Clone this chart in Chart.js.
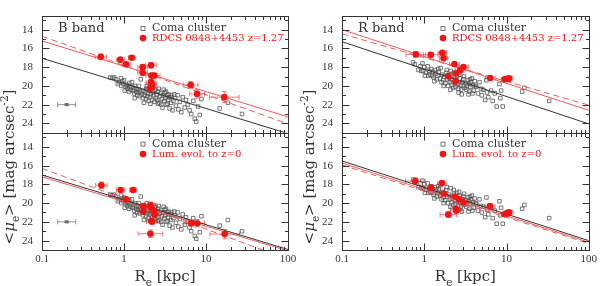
<!DOCTYPE html>
<html>
<head>
<meta charset="utf-8">
<script src="https://cdn.jsdelivr.net/npm/chart.js@4.4.1/dist/chart.umd.min.js"></script>
<style>
html, body { margin: 0; padding: 0; background: #fff; }
#wrap { position: relative; width: 600px; height: 286px; }
canvas { position: absolute; top: 0; }
</style>
</head>
<body>
<div id="wrap">
  <canvas id="leftCol" width="300" height="286" style="left:0"></canvas>
  <canvas id="rightCol" width="300" height="286" style="left:300px"></canvas>
</div>
<script>
// axis ticks
const xMajor = [0.1, 1, 10, 100];
const yMajor = [14, 16, 18, 20, 22, 24];

// Coma cluster, B band (R_e kpc, <mu_e>)
const comaB_R = [0.68, 0.72, 0.76, 0.80, 0.84, 0.87, 0.92, 0.95, 0.98, 1.0,
  1.05, 1.08, 1.1, 1.13, 1.16, 1.2, 1.22, 1.25, 1.28, 1.3, 1.33, 1.36, 1.4, 1.42, 1.45, 1.48, 1.5, 1.55, 1.58, 1.6,
  1.65, 1.7, 1.72, 1.78, 1.8, 1.85, 1.88, 1.92, 1.95, 2.0, 2.05, 2.08, 2.12, 2.2, 2.25, 2.3, 2.35, 2.4, 2.45, 2.5,
  2.55, 2.6, 2.7, 2.75, 2.8, 2.9, 2.95, 3.0, 3.1, 3.15, 3.2, 3.3, 3.35, 3.45, 3.5, 3.6, 3.7, 3.8, 3.9, 4.0,
  4.2, 4.3, 4.5, 4.6, 4.8, 5.0, 5.2, 5.5, 5.7, 6.0, 6.3, 6.6, 7.0, 7.3, 7.6, 8.0, 8.4, 8.8,
  1.35, 1.52, 1.75, 1.9, 2.1, 2.28, 2.6, 2.65, 2.85, 3.05, 3.25, 3.4, 3.55, 3.75, 4.1, 1.15, 1.02, 0.93,
  14.7, 18.5, 27.5];
const comaB_mu = [19.1, 19.15, 19.1, 19.3, 19.8, 19.6, 19.2, 19.5, 19.8, 19.4,
  20.1, 19.9, 20.3, 20.0, 19.7, 20.4, 20.1, 19.6, 20.5, 20.2, 20.8, 20.0, 20.6, 20.3, 21.0, 20.7, 20.4, 21.1, 20.6, 19.3,
  20.9, 21.3, 20.5, 21.0, 20.7, 21.4, 20.3, 21.1, 20.8, 21.6, 20.5, 21.2, 20.9, 21.5, 20.7, 21.0, 21.7, 20.4, 21.3, 20.9,
  21.5, 20.6, 21.8, 21.1, 20.8, 21.4, 22.3, 21.0, 21.6, 20.7, 21.3, 22.0, 21.0, 21.5, 20.9, 22.4, 21.2, 21.0, 22.6, 21.6,
  21.3, 22.1, 21.0, 22.5, 21.7, 22.8, 21.2, 22.3, 21.5, 22.0, 22.6, 23.0, 21.6, 23.5, 23.8, 22.2, 23.1, 21.4,
  21.3, 20.0, 21.8, 20.0, 21.9, 20.2, 21.9, 20.3, 22.0, 20.4, 20.6, 21.9, 21.2, 21.8, 20.9, 20.6, 20.5, 20.0,
  22.4, 21.8, 23.0];

// Coma cluster, R band
const comaR_R = [0.73, 0.77, 0.85, 0.9, 0.95, 0.97, 1.0, 1.05, 1.1,
  1.15, 1.18, 1.22, 1.25, 1.28, 1.3, 1.35, 1.38, 1.42, 1.45, 1.5, 1.55, 1.58, 1.62, 1.65, 1.7,
  1.75, 1.8, 1.85, 1.9, 1.95, 2.0, 2.05, 2.1, 2.15, 2.2, 2.25, 2.3, 2.35, 2.4, 2.45, 2.5, 2.55, 2.6,
  2.7, 2.75, 2.8, 2.9, 2.95, 3.0, 3.1, 3.2, 3.3, 3.4, 3.5, 3.55, 3.6, 3.7, 3.8, 3.9, 4.0, 4.1,
  4.3, 4.5, 4.7, 4.9, 5.0, 5.2, 5.5, 5.7, 5.8, 6.0, 6.5, 6.8, 7.2, 7.6, 8.2, 8.4, 8.6, 9.0,
  1.33, 1.48, 1.72, 1.88, 2.08, 2.28, 2.62, 2.65, 2.85, 3.05, 3.25, 3.45, 3.65, 3.85, 4.2, 1.12, 1.02, 0.92,
  15.5, 16.5, 33];
const comaR_mu = [17.5, 17.7, 18.3, 17.9, 17.6, 18.4, 18.0, 18.6, 17.9,
  18.4, 18.8, 18.2, 18.9, 18.5, 19.1, 18.3, 18.7, 19.3, 18.9, 18.5, 19.2, 18.1, 19.6, 18.8, 19.4,
  19.0, 19.7, 18.6, 19.3, 20.0, 19.1, 19.6, 18.4, 19.9, 19.3, 20.2, 19.0, 19.7, 20.1, 19.4, 18.9, 19.8, 20.3,
  19.2, 19.9, 20.4, 19.6, 20.0, 19.3, 20.2, 19.7, 20.0, 19.4, 19.8, 20.6, 19.3, 19.6, 19.2, 19.9, 20.5, 19.5,
  20.1, 20.8, 19.6, 20.3, 21.0, 20.4, 21.5, 19.4, 20.7, 21.2, 20.5, 21.6, 20.8, 22.2, 19.8, 21.3, 20.5, 22.2,
  19.5, 18.2, 20.0, 18.3, 20.4, 18.6, 20.7, 18.8, 20.9, 19.0, 20.4, 20.9, 20.1, 20.8, 20.0, 18.9, 18.9, 18.4,
  20.6, 20.2, 21.6];

// RDCS 0848+4453, B band (observed)
const rdcsB_R  = [0.52, 0.90, 1.06, 1.24, 1.69, 1.69, 2.14, 2.17, 2.34, 2.14, 2.20, 2.07, 6.5, 7.8, 16.7];
const rdcsB_mu = [16.9, 17.2, 17.7, 17.0, 18.0, 18.6, 17.8, 18.9, 18.9, 19.6, 19.9, 20.3, 19.9, 20.85, 21.2];
const rdcsB_ex = [0.07, 0.05, 0.05, 0.04, 0.06, 0.06, 0.07, 0.07, 0.07, 0.06, 0.06, 0.06, 0.09, 0.09, 0.18];
const rdcsB_ey = [0.3, 0.2, 0.2, 0.15, 0.25, 0.3, 0.3, 0.25, 0.25, 0.3, 0.3, 0.35, 0.35, 0.45, 0.6];

// B band, luminosity evolved to z=0
const evB_R  = [0.53, 0.91, 1.29, 1.06, 1.72, 1.72, 2.1, 2.16, 2.3, 2.36, 2.16, 2.2, 2.1, 6.6, 7.8, 16.9];
const evB_mu = [18.1, 18.6, 18.6, 19.6, 20.3, 20.9, 20.2, 20.5, 20.9, 21.2, 21.9, 21.95, 23.27, 22.15, 22.15, 23.3];
const evB_ex = [0.07, 0.05, 0.04, 0.05, 0.06, 0.06, 0.07, 0.07, 0.07, 0.07, 0.06, 0.07, 0.15, 0.09, 0.09, 0.18];
const evB_ey = [0.35, 0.2, 0.15, 0.2, 0.25, 0.3, 0.3, 0.25, 0.3, 0.3, 0.3, 0.35, 0.4, 0.3, 0.4, 0.5];

// RDCS 0848+4453, R band (observed)
const rdcsR_R  = [0.79, 1.20, 1.66, 1.72, 2.33, 3.0, 2.74, 2.43, 1.96, 2.4, 6.35, 9.5, 10.2, 10.7];
const rdcsR_mu = [16.64, 16.68, 16.48, 17.04, 17.68, 17.99, 18.32, 18.66, 18.95, 19.5, 19.15, 19.3, 19.25, 19.2];
const rdcsR_ex = [0.12, 0.09, 0.05, 0.05, 0.06, 0.06, 0.06, 0.07, 0.07, 0.07, 0.06, 0.04, 0.04, 0.04];
const rdcsR_ey = [0.3, 0.25, 0.2, 0.2, 0.2, 0.2, 0.2, 0.2, 0.25, 0.3, 0.2, 0.2, 0.2, 0.2];

// R band, luminosity evolved to z=0
const evR_R  = [0.78, 1.21, 1.64, 1.72, 2.36, 2.66, 3.0, 2.43, 2.45, 1.96, 6.3, 9.5, 10.2, 10.7];
const evR_mu = [17.65, 18.35, 17.85, 18.98, 19.3, 19.6, 19.9, 20.62, 20.8, 21.22, 20.32, 21.18, 21.06, 20.98];
const evR_ex = [0.12, 0.09, 0.05, 0.05, 0.06, 0.06, 0.06, 0.07, 0.07, 0.1, 0.06, 0.04, 0.04, 0.04];
const evR_ey = [0.35, 0.3, 0.2, 0.2, 0.2, 0.2, 0.2, 0.25, 0.25, 0.3, 0.2, 0.2, 0.2, 0.2];

// typical Coma error (left panels)
const typR = [0.2], typMu = [22.0], typEx = [0.11], typEy = [0.08];

// fitted relations, end points [R, mu]
const fitComaBTop = [[0.1, 17.05], [93, 25.0]];
const fitRdcsBTop = [[0.1, 15.2], [100, 23.3]];
const fitRdcsBTopDash = [[0.1, 14.7], [100, 24.05]];
const fitComaBBot = [[0.1, 17.0], [100, 24.95]];
const fitEvBBot = [[0.1, 17.2], [92, 25.0]];
const fitEvBBotDash = [[0.1, 16.3], [49, 25.0]];
const fitComaRTop = [[0.1, 15.28], [100, 24.05]];
const fitRdcsRTop = [[0.1, 14.0], [100, 22.6]];
const fitRdcsRTopDash = [[0.1, 14.45], [100, 22.05]];
const fitComaRBot = [[0.1, 15.5], [100, 24.0]];
const fitEvRBot = [[0.1, 15.73], [100, 24.17]];
const fitEvRBotDash = [[0.1, 15.93], [100, 24.3]];

const RED = '#f01414';
const RED_LINE = '#f05a5a';
const GREY = '#555';
const INK = '#333';
const SERIF = '"DejaVu Serif", serif';
const TICKFONT = '"Liberation Serif", serif';

const pts = (xs, ys) => xs.map((x, i) => ({x: x, y: ys[i]}));
const seg = arr => arr.map(p => ({x: p[0], y: p[1]}));

function comaSet(xs, ys, axis) {
  return {data: pts(xs, ys), yAxisID: axis, pointStyle: 'rect', pointRadius: 2.5,
    borderColor: GREY, borderWidth: 0.8, backgroundColor: 'rgba(0,0,0,0)', order: 5};
}
function redSet(xs, ys, ex, ey, axis) {
  return {data: pts(xs, ys), yAxisID: axis, pointStyle: 'circle', pointRadius: 3.3,
    borderColor: RED, borderWidth: 0, backgroundColor: RED, errX: ex, errY: ey, errColor: RED_LINE, order: 1};
}
function typSet(axis) {
  return {data: pts(typR, typMu), yAxisID: axis, pointStyle: 'rect', pointRadius: 1.6,
    borderColor: GREY, borderWidth: 0.8, backgroundColor: 'rgba(0,0,0,0)', errX: typEx, errY: typEy, errColor: '#777', order: 4};
}
function lineSet(arr, color, axis, dash) {
  return {data: seg(arr), yAxisID: axis, showLine: true, pointRadius: 0, borderColor: color,
    borderWidth: 1, borderDash: dash ? [6, 4] : [], order: 3};
}

// draws text pieces with sub/superscripts
function richWidth(ctx, parts, size) {
  let w = 0;
  parts.forEach(p => {
    ctx.font = (p.it ? 'italic ' : '') + (p.sub || p.sup ? size * 0.7 : size) + 'px ' + SERIF;
    w += ctx.measureText(p.t).width;
  });
  return w;
}
function drawRich(ctx, parts, x, y, size) {
  parts.forEach(p => {
    const s = p.sub || p.sup ? size * 0.7 : size;
    ctx.font = (p.it ? 'italic ' : '') + s + 'px ' + SERIF;
    const dy = p.sub ? size * 0.3 : (p.sup ? -size * 0.4 : 0);
    ctx.fillText(p.t, x, y + dy);
    x += ctx.measureText(p.t).width;
  });
}

const frameAndText = {
  id: 'frameAndText',
  beforeDatasetsDraw(chart) {
    const ctx = chart.ctx, xs = chart.scales.x;
    ctx.save();
    ctx.lineWidth = 0.8;
    chart.data.datasets.forEach(ds => {
      if (!ds.errX) return;
      const ys = chart.scales[ds.yAxisID];
      ctx.strokeStyle = ds.errColor;
      ds.data.forEach((p, i) => {
        const px = xs.getPixelForValue(p.x), py = ys.getPixelForValue(p.y);
        const x0 = xs.getPixelForValue(p.x * Math.pow(10, -ds.errX[i]));
        const x1 = xs.getPixelForValue(p.x * Math.pow(10, ds.errX[i]));
        const y0 = ys.getPixelForValue(p.y - ds.errY[i]);
        const y1 = ys.getPixelForValue(p.y + ds.errY[i]);
        ctx.beginPath();
        ctx.moveTo(x0, py); ctx.lineTo(x1, py);
        ctx.moveTo(x0, py - 2.5); ctx.lineTo(x0, py + 2.5);
        ctx.moveTo(x1, py - 2.5); ctx.lineTo(x1, py + 2.5);
        ctx.moveTo(px, y0); ctx.lineTo(px, y1);
        ctx.moveTo(px - 2.5, y0); ctx.lineTo(px + 2.5, y0);
        ctx.moveTo(px - 2.5, y1); ctx.lineTo(px + 2.5, y1);
        ctx.stroke();
      });
    });
    ctx.restore();
  },
  afterDraw(chart) {
    const ctx = chart.ctx, xs = chart.scales.x, o = chart.options.plugins.frameAndText;
    ctx.save();
    ctx.strokeStyle = INK;
    ctx.lineWidth = 1;
    const xMinor = [];
    [0.1, 1, 10].forEach(d => { for (let k = 2; k <= 9; k++) xMinor.push(k * d); });
    ['yT', 'yB'].forEach(id => {
      const ys = chart.scales[id];
      const L = Math.round(xs.left) + 0.5, R = Math.round(xs.right) + 0.5;
      const T = Math.round(ys.top) + 0.5, B = Math.round(ys.bottom) + 0.5;
      ctx.strokeRect(L, T, R - L, B - T);
      ctx.beginPath();
      const xt = (v, len) => {
        const px = Math.round(xs.getPixelForValue(v)) + 0.5;
        ctx.moveTo(px, B); ctx.lineTo(px, B - len);
        ctx.moveTo(px, T); ctx.lineTo(px, T + len);
      };
      xMajor.forEach(v => xt(v, 7));
      xMinor.forEach(v => xt(v, 3.5));
      const yt = (v, len) => {
        const py = Math.round(ys.getPixelForValue(v)) + 0.5;
        ctx.moveTo(L, py); ctx.lineTo(L + len, py);
        ctx.moveTo(R, py); ctx.lineTo(R - len, py);
      };
      for (let v = 13; v <= 25; v += 1) yt(v, yMajor.includes(v) ? 7 : 3.5);
      ctx.stroke();
    });

    // legends
    const yT = chart.scales.yT, yB = chart.scales.yB;
    const mx = xs.left + 101, tx = xs.left + 110;
    ctx.textBaseline = 'middle';
    ctx.textAlign = 'left';
    ctx.fillStyle = INK;
    ctx.font = '13px ' + SERIF;
    ctx.fillText(o.band, xs.left + 16, yT.top + 13);
    const legend = (ys, dy1, dy2, second) => {
      ctx.strokeStyle = GREY; ctx.lineWidth = 0.8;
      ctx.strokeRect(mx - 2, ys.top + dy1 - 2, 4, 4);
      ctx.font = '11px ' + SERIF;
      ctx.fillStyle = INK;
      ctx.fillText('Coma cluster', tx, ys.top + dy1);
      ctx.fillStyle = RED;
      ctx.beginPath(); ctx.arc(mx, ys.top + dy2, 3.3, 0, Math.PI * 2); ctx.fill();
      ctx.font = '10px ' + SERIF;
      ctx.fillText(second, tx, ys.top + dy2);
    };
    legend(yT, 13, 22.5, 'RDCS 0848+4453 z=1.27');
    legend(yB, 11.3, 21.3, 'Lum. evol. to z=0');

    // axis titles
    ctx.fillStyle = INK;
    ctx.textBaseline = 'alphabetic';
    const xt = [{t: 'R'}, {t: 'e', sub: true}, {t: ' [kpc]'}];
    const w1 = richWidth(ctx, xt, 15);
    drawRich(ctx, xt, (xs.left + xs.right) / 2 - w1 / 2, 281, 15);
    const yTitle = [{t: '<'}, {t: 'μ', it: true}, {t: 'e', sub: true}, {t: '> [mag arcsec'}, {t: '-2', sup: true}, {t: ']'}];
    const w2 = richWidth(ctx, yTitle, 15);
    ctx.translate(14, 167);
    ctx.rotate(-Math.PI / 2);
    drawRich(ctx, yTitle, -w2 / 2, 0, 15);
    ctx.restore();
  }
};

function yScale(weight) {
  return {
    type: 'linear', position: 'left', stack: 'col', stackWeight: 1, weight: weight,
    min: 12.5, max: 25, reverse: true,
    grid: {display: false, drawTicks: false}, border: {display: false},
    afterBuildTicks: s => { s.ticks = yMajor.map(v => ({value: v})); },
    afterFit: s => { s.width = 42; },
    ticks: {padding: 9, color: INK, font: {family: TICKFONT, size: 11}, autoSkip: false}
  };
}

function makeChart(id, band, datasets, rightPad) {
  return new Chart(document.getElementById(id), {
    type: 'scatter',
    data: {datasets: datasets},
    options: {
      responsive: false,
      animation: false,
      layout: {padding: {top: 2, right: rightPad, left: 0, bottom: 0}},
      plugins: {legend: {display: false}, tooltip: {enabled: false}, frameAndText: {band: band}},
      scales: {
        x: {
          type: 'logarithmic', position: 'bottom', min: 0.1, max: 100,
          grid: {display: false, drawTicks: false}, border: {display: false},
          afterBuildTicks: s => { s.ticks = xMajor.map(v => ({value: v})); },
          afterFit: s => { s.height = 36; },
          ticks: {padding: 3, color: INK, font: {family: TICKFONT, size: 11}, autoSkip: false, maxRotation: 0,
            callback: v => String(v)}
        },
        yB: yScale(1),
        yT: yScale(2)
      }
    },
    plugins: [frameAndText]
  });
}

makeChart('leftCol', 'B band', [
  comaSet(comaB_R, comaB_mu, 'yT'),
  typSet('yT'),
  lineSet(fitComaBTop, INK, 'yT', false),
  lineSet(fitRdcsBTop, RED_LINE, 'yT', false),
  lineSet(fitRdcsBTopDash, RED_LINE, 'yT', true),
  redSet(rdcsB_R, rdcsB_mu, rdcsB_ex, rdcsB_ey, 'yT'),
  comaSet(comaB_R, comaB_mu, 'yB'),
  typSet('yB'),
  lineSet(fitComaBBot, INK, 'yB', false),
  lineSet(fitEvBBot, RED_LINE, 'yB', false),
  lineSet(fitEvBBotDash, RED_LINE, 'yB', true),
  redSet(evB_R, evB_mu, evB_ex, evB_ey, 'yB')
], 12);

makeChart('rightCol', 'R band', [
  comaSet(comaR_R, comaR_mu, 'yT'),
  lineSet(fitComaRTop, INK, 'yT', false),
  lineSet(fitRdcsRTop, RED_LINE, 'yT', false),
  lineSet(fitRdcsRTopDash, RED_LINE, 'yT', true),
  redSet(rdcsR_R, rdcsR_mu, rdcsR_ex, rdcsR_ey, 'yT'),
  comaSet(comaR_R, comaR_mu, 'yB'),
  lineSet(fitComaRBot, INK, 'yB', false),
  lineSet(fitEvRBot, RED_LINE, 'yB', false),
  lineSet(fitEvRBotDash, RED_LINE, 'yB', true),
  redSet(evR_R, evR_mu, evR_ex, evR_ey, 'yB')
], 10);
</script>
</body>
</html>
